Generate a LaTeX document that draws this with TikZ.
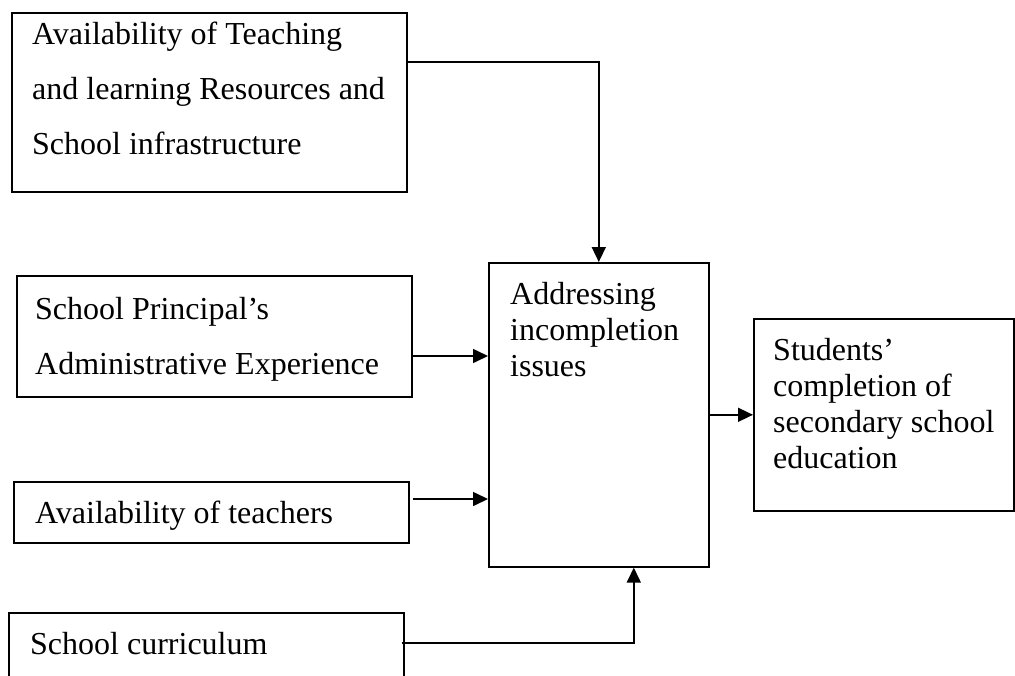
\documentclass[tikz,border=0pt]{standalone}
\usepackage{fontspec}
\setmainfont{Liberation Serif}
\usetikzlibrary{
    arrows.meta,
    positioning,
    calc
}

\tikzset{
  block/.style={
    draw,
    line width=1.6pt,
    inner sep=0pt,
    anchor=north west
  },
  blocktext/.style={
    inner sep=0pt,
    anchor=north west,
    align=left,
    font=\fontsize{32}{55}\selectfont
  },
  blocktextnarrow/.style={
    blocktext,
    font=\fontsize{32}{36}\selectfont
  },
  link/.style={
    line width=1.6pt,
    -{Triangle[length=15pt,width=14pt]}
  }
}

\begin{document}
\begin{tikzpicture}[x=1pt, y=-1pt]

  \useasboundingbox (0,0) rectangle (1015,675);
  \clip (0,0) rectangle (1015,675);

  % resources {{{
  \node[block, minimum width=395pt, minimum height=179pt] (res) at (11,12) {};
  \node[blocktext] (res-txt) at ([shift={(21,10.2)}]res.north west)
    {Availability of Teaching\\and learning Resources and\\School infrastructure};
  % }}}

  % principal {{{
  \node[block, minimum width=395pt, minimum height=121pt] (prin) at (16,275) {};
  \node[blocktext] (prin-txt) at ([shift={(19,22.2)}]prin.north west)
    {School Principal’s\\Administrative Experience};
  % }}}

  % teachers {{{
  \node[block, minimum width=395pt, minimum height=61pt] (teach) at (13,481) {};
  \node[blocktext] (teach-txt) at ([shift={(22,20.2)}]teach.north west)
    {Availability of teachers};
  % }}}

  % curriculum {{{
  \node[block, minimum width=395pt, minimum height=100pt] (curr) at (8,612) {};
  \node[blocktext] (curr-txt) at ([shift={(22,20.2)}]curr.north west)
    {School curriculum};
  % }}}

  % addressing {{{
  \node[block, minimum width=220pt, minimum height=304pt] (addr) at (488,262) {};
  \node[blocktextnarrow] (addr-txt) at ([shift={(22,20.2)}]addr.north west)
    {Addressing\\incompletion\\issues};
  % }}}

  % completion {{{
  \node[block, minimum width=260pt, minimum height=192pt] (compl) at (753,318) {};
  \node[blocktextnarrow] (compl-txt) at ([shift={(20,20.2)}]compl.north west)
    {Students’\\completion of\\secondary school\\education};
  % }}}

  % connectors {{{
  \coordinate (res-out) at ([shift={(0,50)}]res.north east);
  \coordinate (prin-out) at ([shift={(0,81)}]prin.north east);
  \coordinate (teach-out) at ([shift={(3,18)}]teach.north east);
  \coordinate (curr-out) at ([shift={(-3,31)}]curr.north east);

  \draw[link] (res-out) -| (addr.north);
  \draw[link] (prin-out) -- (prin-out -| addr.west);
  \draw[link] (teach-out) -- (teach-out -| addr.west);
  \draw[link] (curr-out) -| ([xshift=35pt]addr.south);
  \draw[link] (addr.east) -- (addr.east -| compl.west);
  % }}}

\end{tikzpicture}
\end{document}
